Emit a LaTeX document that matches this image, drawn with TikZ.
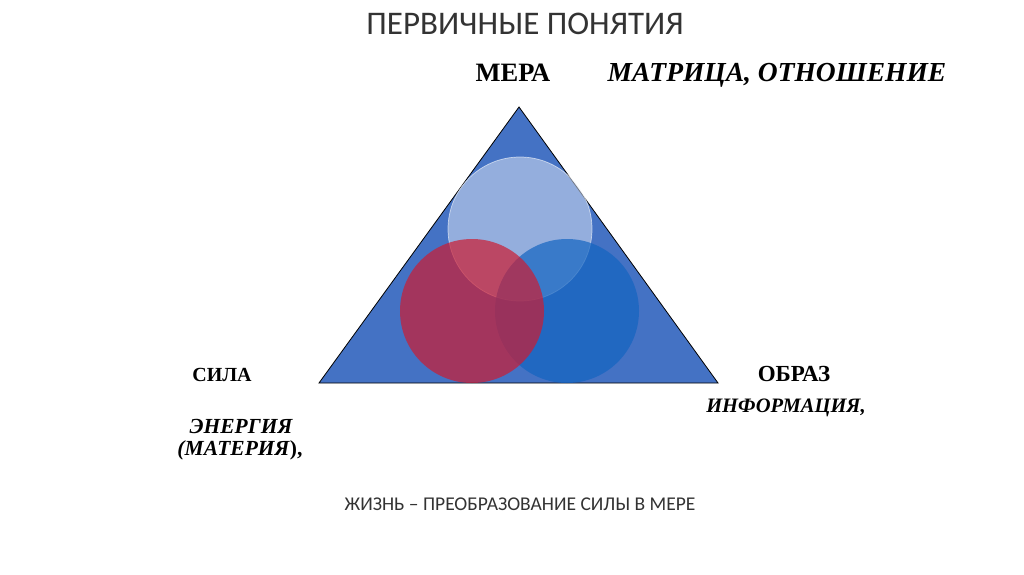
\documentclass[tikz,border=0pt]{standalone}
\usepackage{fontspec}
\setmainfont{Liberation Serif}
\newfontfamily\titlefont{Carlito}
\usepackage{tikz}
\usetikzlibrary{calc}
\definecolor{trifill}{HTML}{4472C4}
\definecolor{topcirc}{HTML}{D6E0F2}
\definecolor{rightcirc}{HTML}{1364C1}
\definecolor{leftcirc}{HTML}{CC1C32}
\tikzset{
  bigword/.style={anchor=base,font=\bfseries\fontsize{#1}{#1}\selectfont},
  itword/.style={anchor=base,font=\bfseries\itshape\fontsize{#1}{#1}\selectfont},
  sanstext/.style={anchor=base,text=black!80,font=\titlefont\fontsize{#1}{#1}\selectfont}
}
\begin{document}
\begin{tikzpicture}[x=1pt,y=1pt]
                      \useasboundingbox[fill=white] (0,0) rectangle (1024,574);
                      \fill[trifill,draw=black,line width=0.8pt] (319,191) -- (519,467) -- (718,191) -- cycle;
                      \fill[topcirc,fill opacity=0.55,draw=white,draw opacity=0.6,line width=0.7pt] (520,345) circle (72);
                      \fill[rightcirc,fill opacity=0.7] (567,263) circle (72);
                      \fill[leftcirc,fill opacity=0.7] (472,263) circle (72);
                      \node[sanstext=33](title)at(525,539){ПЕРВИЧНЫЕ ПОНЯТИЯ};
                      \node[bigword=26.5](mera)at(513,492){МЕРА};
                      \node[itword=27.5](matrix)at(777,492){МАТРИЦА, ОТНОШЕНИЕ};
                      \node[bigword=20](sila)at(222,193){СИЛА};
                      \node[itword=21.5](energy)at(241,141){ЭНЕРГИЯ};
                      \node[itword=21.5](matter)at(240,119){(МАТЕРИЯ\textup{),}};
                      \node[bigword=23](obraz)at(794,193){ОБРАЗ};
                      \node[itword=20.5](info)at(786,162){ИНФОРМАЦИЯ,};
                      \node[sanstext=19.5](life)at(520,64){ЖИЗНЬ – ПРЕОБРАЗОВАНИЕ СИЛЫ В МЕРЕ};
                  \end{tikzpicture}
\end{document}
